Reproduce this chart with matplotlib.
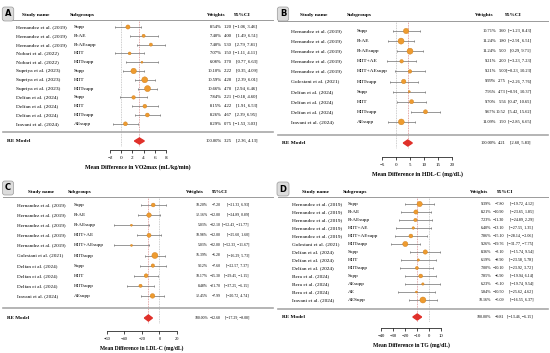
import numpy as np
import matplotlib
matplotlib.use("Agg")
import matplotlib.pyplot as plt
from matplotlib import transforms
from matplotlib.patches import Polygon

# ---- data: panel A (VO2max) ----
a_studies = ["Hernandez et al. (2019)"] * 3 + ["Nobari et al. (2022)"] * 2 + \
    ["Supriya et al. (2023)"] * 3 + ["Delfan et al. (2024)"] * 3 + ["Iravani et al. (2024)"]
a_subgroups = ["Supp", "R-AE", "R-AEsupp", "HIIT", "HIITsupp", "Supp", "HIIT", "HIITsupp",
               "Supp", "HIIT", "HIITsupp", "AEsupp"]
a_weights = [8.54, 7.40, 7.40, 7.07, 6.08, 10.10, 10.59, 10.66, 7.84, 8.15, 8.26, 8.29]
a_est = [1.20, 4.00, 5.30, 1.50, 3.70, 2.22, 4.20, 4.70, 2.21, 4.22, 4.67, 0.75]
a_lo = [-1.06, 1.49, 2.79, -1.11, 0.77, 0.35, 2.39, 2.94, -0.18, 1.91, 2.39, -1.53]
a_hi = [3.46, 6.51, 7.81, 4.11, 6.63, 4.09, 6.01, 6.46, 4.60, 6.53, 6.95, 3.03]
a_pooled = [3.25, 2.36, 4.13]
a_ticks = [-2, 0, 2, 4, 6, 8]

# ---- data: panel B (HDL-C) ----
b_studies = ["Hernandez et al. (2019)"] * 5 + ["Golestani et al. (2021)"] + \
    ["Delfan et al. (2024)"] * 3 + ["Iravani et al. (2024)"]
b_subgroups = ["Supp", "R-AE", "R-AEsupp", "HIIT+AE", "HIIT+AEsupp", "HIITsupp",
               "Supp", "HIIT", "HIITsupp", "AEsupp"]
b_weights = [10.71, 11.24, 11.24, 9.21, 9.21, 9.99, 7.96, 9.70, 9.67, 11.09]
b_est = [3.60, 1.80, 5.00, 2.00, 5.00, 2.75, 4.73, 5.56, 10.52, 1.90]
b_lo = [-1.23, -2.91, 0.29, -3.23, -0.23, -2.26, -0.91, 0.47, 5.42, -2.85]
b_hi = [8.43, 6.51, 9.71, 7.23, 10.23, 7.76, 10.37, 10.65, 15.62, 6.65]
b_pooled = [4.21, 2.60, 5.83]
b_ticks = [-5, 0, 5, 10, 15, 20]

# ---- data: panel C (LDL-C) ----
c_studies = list(b_studies)
c_subgroups = list(b_subgroups)
c_weights = [10.20, 12.16, 5.03, 10.98, 5.03, 16.39, 9.12, 10.17, 8.48, 12.45]
c_est = [-7.20, -12.00, -32.10, -12.00, -32.00, -5.28, -7.60, -15.30, -21.70, -7.99]
c_lo = [-21.33, -24.89, -52.43, -25.60, -52.33, -16.29, -22.57, -29.45, -37.25, -20.72]
c_hi = [6.93, 0.89, -11.77, 1.60, -11.67, 5.73, 7.37, -1.15, -6.15, 4.74]
c_pooled = [-12.68, -17.29, -8.08]
c_ticks = [-60, -40, -20, 0, 20]

# ---- data: panel D (TG) ----
d_studies = ["Hernandez et al. (2019)"] * 5 + ["Golestani et al. (2021)"] + \
    ["Delfan et al. (2024)"] * 3 + ["Bera et al. (2024)"] * 3 + ["Iravani et al. (2024)"]
d_subgroups = ["Supp", "R-AE", "R-AEsupp", "HIIT+AE", "HIIT+AEsupp", "HIITsupp",
               "Supp", "HIIT", "HIITsupp", "Supp", "AEsupp", "AE", "AESupp"]
d_weights = [9.39, 8.21, 7.23, 6.40, 7.86, 9.26, 8.36, 6.19, 7.00, 7.85, 6.23, 5.84, 10.16]
d_est = [-7.80, -10.90, -11.30, -13.10, -15.10, -19.76, -3.10, -8.90, -10.10, -6.90, -5.10,
         -10.50, -5.09]
d_lo = [-19.72, -23.65, -24.89, -27.55, -28.14, -31.77, -15.74, -23.58, -23.92, -19.94,
        -19.74, -25.62, -16.55]
d_hi = [4.12, 1.85, 2.29, 1.35, -2.06, -7.75, 9.54, 5.78, 3.72, 6.14, 9.54, 4.62, 6.37]
d_pooled = [-9.81, -13.46, -6.15]
d_ticks = [-40, -30, -20, -10, 0, 10]

W, H = 550, 353
SERIF = "Liberation Serif"
ORANGE = "#EE9B2F"
RED = "#E0302A"

fig = plt.figure(figsize=(W / 100, H / 100), dpi=100)


def fmt(v):
    return f"{v:.2f}".replace("-", "\u2212")


def forest(letter, studies, subgroups, weights, est, lo, hi, pooled, ticks, xlabel, lay):
    ox = lay["ox"]
    fs, nfs = lay["fs"], lay["nfs"]
    x0, x1 = lay["axis_x"]
    y0, dy = lay["y0"], lay["dy"]
    top, bot = lay["headline"], lay["axis_y"]
    ax = fig.add_axes([x0 / W, 1 - bot / H, (x1 - x0) / W, (bot - top) / H])
    ax.set_xlim(ticks[0], ticks[-1])
    ax.set_ylim(bot, top)
    ax.patch.set_alpha(0)
    tr = transforms.blended_transform_factory(fig.transFigure, ax.transData)

    n = len(est)
    ys = y0 + dy * np.arange(n)
    re_y = lay["re_y"]
    est, lo, hi, w = map(np.asarray, (est, lo, hi, weights))

    # reference lines (zero and pooled estimate)
    ax.vlines(0, top, re_y + 5, colors="#bdbdbd", linestyles=(0, (1, 1)), lw=0.6)
    ax.vlines(pooled[0], top, re_y + 5, colors="#d98a8a", linestyles=(0, (1, 1)), lw=0.6)

    # CIs and weighted markers
    ax.errorbar(est, ys, xerr=[est - lo, hi - est], fmt="none", ecolor="#6e6e6e",
                elinewidth=0.5, capsize=1.0, capthick=0.5, zorder=2)
    d = 2 + (w - w.min()) / (w.max() - w.min()) * 4
    ax.scatter(est, ys, s=(d * 0.72) ** 2, color=ORANGE, edgecolors="#cf7d1a",
               linewidths=0.3, zorder=3)

    # pooled diamond
    e, l, h = pooled
    ax.add_patch(Polygon([(l, re_y), (e, re_y - 3), (h, re_y), (e, re_y + 3)],
                         closed=True, color=RED, zorder=3))

    # separators
    ax.plot([(ox + 3) / W, (ox + 273) / W], [top, top], transform=tr, color="#9a9a9a",
            lw=0.7, clip_on=False)
    ax.plot([(ox + 3) / W, (ox + 273) / W], [lay["sep"], lay["sep"]], transform=tr,
            color="#a8a8a8", lw=1.2, clip_on=False)

    # headers
    hy = lay["head"]
    for x, s in zip(lay["hdr_x"], ["Study name", "Subgroups", "Weights", "95%CI"]):
        ax.text((ox + x) / W, hy, s, transform=tr, ha="center", va="center",
                fontsize=fs, fontweight="bold", family=SERIF)

    # row text
    sx, gx, wr, er, cr = lay["cols"]
    for i in range(n):
        ax.text((ox + sx) / W, ys[i], studies[i], transform=tr, ha="left", va="center",
                fontsize=fs, family=SERIF)
        ax.text((ox + gx) / W, ys[i], subgroups[i], transform=tr, ha="left", va="center",
                fontsize=fs, family=SERIF)
        ax.text((ox + wr) / W, ys[i], f"{w[i]:.2f}%", transform=tr, ha="right",
                va="center", fontsize=nfs, family=SERIF)
        ax.text((ox + er) / W, ys[i], fmt(est[i]), transform=tr, ha="right",
                va="center", fontsize=nfs, family=SERIF)
        ax.text((ox + cr) / W, ys[i], f"[{fmt(lo[i])}, {fmt(hi[i])}]", transform=tr,
                ha="right", va="center", fontsize=nfs, family=SERIF)

    # RE model row
    ax.text((ox + 7) / W, re_y, "RE Model", transform=tr, ha="left", va="center",
            fontsize=fs, fontweight="bold", family=SERIF)
    ax.text((ox + wr) / W, re_y, "100.00%", transform=tr, ha="right", va="center",
            fontsize=nfs, family=SERIF)
    ax.text((ox + er) / W, re_y, fmt(e), transform=tr, ha="right", va="center",
            fontsize=nfs, family=SERIF)
    ax.text((ox + cr) / W, re_y, f"[{fmt(l)}, {fmt(h)}]", transform=tr, ha="right",
            va="center", fontsize=nfs, family=SERIF)

    # axis
    for s in ["top", "right", "left"]:
        ax.spines[s].set_visible(False)
    ax.spines["bottom"].set_linewidth(0.5)
    ax.set_yticks([])
    ax.set_xticks(ticks)
    ax.tick_params(axis="x", length=2, width=0.5, pad=2.5, labelsize=nfs + 0.4)
    for t in ax.get_xticklabels():
        t.set_family(SERIF)
    ax.set_xlabel(xlabel, fontsize=fs + 0.3, fontweight="bold", family=SERIF, labelpad=3)

    # panel letter
    lx, ly = lay["letter"]
    fig.text((ox + lx) / W, 1 - ly / H, letter, ha="center", va="center", fontsize=6,
             fontweight="bold", family="DejaVu Sans",
             bbox=dict(boxstyle="round,pad=0.3", fc="#dcdcdc", ec="#9a9a9a", lw=0.5))
    return ax


lay_a = dict(ox=0, fs=3.9, nfs=3.3, axis_x=(110, 166), y0=27, dy=8.8, re_y=141, sep=132,
             axis_y=150, head=15, headline=20.5, hdr_x=(36, 82, 216, 242),
             cols=(16, 74, 222, 232, 257), letter=(8, 14))
lay_b = dict(ox=275, fs=3.9, nfs=3.2, axis_x=(382, 452), y0=31, dy=10.1, re_y=143, sep=135,
             axis_y=157, head=15, headline=21, hdr_x=(39, 84, 209, 238),
             cols=(16, 82, 221, 231, 256), letter=(8, 14))
lay_c = dict(ox=0, fs=3.7, nfs=2.8, axis_x=(107, 177), y0=205, dy=10.1, re_y=318, sep=308,
             axis_y=331, head=192, headline=197, hdr_x=(41, 80, 195, 220),
             cols=(17, 74, 208, 221, 249), letter=(8, 188))
lay_d = dict(ox=275, fs=3.8, nfs=3.0, axis_x=(381, 441), y0=204, dy=8.0, re_y=317, sep=309,
             axis_y=328, head=192, headline=197, hdr_x=(41, 80, 204, 230),
             cols=(17, 73, 216, 229, 258), letter=(8, 189))

forest("A", a_studies, a_subgroups, a_weights, a_est, a_lo, a_hi, a_pooled, a_ticks,
       "Mean Difference in VO2max (mL/kg/min)", lay_a)
forest("B", b_studies, b_subgroups, b_weights, b_est, b_lo, b_hi, b_pooled, b_ticks,
       "Mean Difference in HDL-C (mg/dL)", lay_b)
forest("C", c_studies, c_subgroups, c_weights, c_est, c_lo, c_hi, c_pooled, c_ticks,
       "Mean Difference in LDL-C (mg/dL)", lay_c)
forest("D", d_studies, d_subgroups, d_weights, d_est, d_lo, d_hi, d_pooled, d_ticks,
       "Mean Difference in TG (mg/dL)", lay_d)

fig.savefig("out.png", dpi=100)
